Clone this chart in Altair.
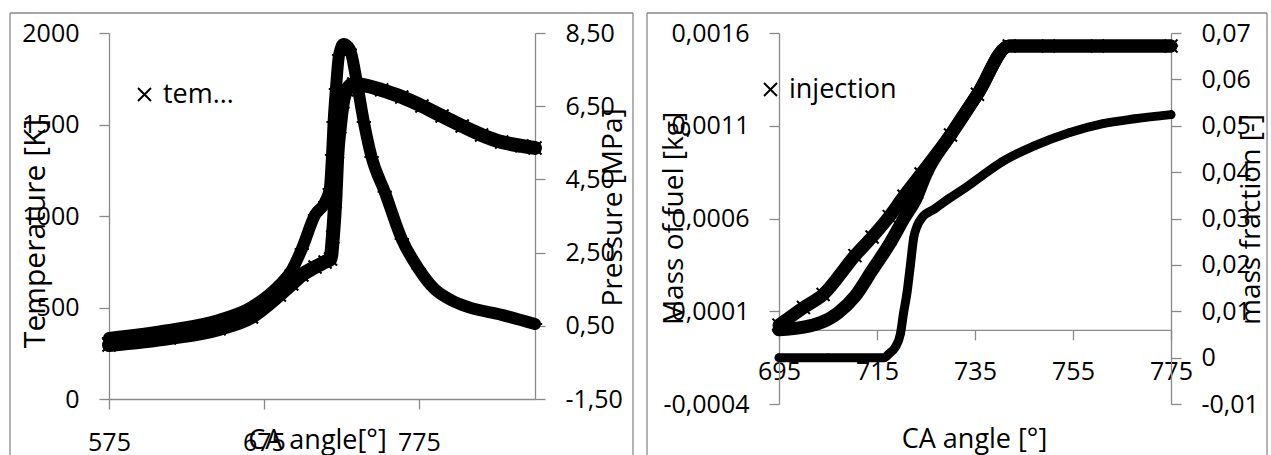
import altair as alt
import pandas as pd

# ---------------- data ----------------
# left panel: temperature [K] (left axis) and pressure [MPa] (right axis)
temp_deg = [575, 614, 646, 667, 685, 693, 699.5, 708, 714.5, 718, 719.5, 721, 722.5, 724, 726,
            728.5, 733, 751, 764, 777, 790, 803, 815.5, 828.5, 841.5, 850]
temp_K = [295, 333, 383, 448, 568, 628, 678, 721, 749, 765, 885, 1077, 1350, 1486, 1623,
          1689, 1721, 1689, 1650, 1601, 1546, 1492, 1443, 1404, 1383, 1372]
pres_deg = [575, 614, 646, 667, 685, 693, 699.5, 708, 714.5, 717.5, 719, 720, 721.5, 723.5,
            726.5, 730.5, 735, 739.5, 744.5, 753, 764, 775, 785, 796, 807, 828.5, 850]
pres_MPa = [0.17, 0.39, 0.66, 1.01, 1.61, 2.02, 2.60, 3.53, 3.88, 4.24, 5.17, 6.07, 6.97, 7.90,
            8.20, 8.05, 7.16, 6.07, 5.11, 4.16, 2.87, 2.05, 1.51, 1.20, 1.01, 0.80, 0.55]

# right panel: mass of fuel [kg] (left axis) and mass fraction [-] (right axis)
inj_deg = [695, 700, 704, 710.5, 714, 717.5, 720.5, 724, 730, 735.5, 742, 750, 760, 775]
inj_kg = [0.000025, 0.00012, 0.00019, 0.0004, 0.0005, 0.00061, 0.00072, 0.00084, 0.00105,
          0.00127, 0.00153, 0.00153, 0.00153, 0.00153]
evap_deg = [695, 700, 707, 710.5, 714, 717.5, 720.5, 723, 725, 730, 735.5, 742, 750, 760, 775]
evap_kg = [0.0, 0.000014, 0.00009, 0.00018, 0.00032, 0.00046, 0.0006, 0.00071, 0.00084,
           0.00105, 0.00127, 0.00153, 0.00153, 0.00153, 0.00153]
frac_deg = [695, 705, 716.5, 717.5, 718.7, 719.8, 720.4, 721.1, 721.8, 722.5, 723.2, 724.2,
            726.8, 729.7, 733, 736.4, 740.5, 747.2, 754.2, 760.9, 767.7, 775]
frac_val = [0, 0, 0, 0.0009, 0.0022, 0.0052, 0.0095, 0.0138, 0.0198, 0.0259, 0.0284, 0.0302,
            0.0321, 0.0343, 0.0366, 0.0392, 0.0422, 0.0457, 0.0485, 0.0504, 0.0515, 0.0524]

# axis ticks
x1_ticks = [575, 675, 775]
t_ticks = [0, 500, 1000, 1500, 2000]
p_ticks = [-1.5, 0.5, 2.5, 4.5, 6.5, 8.5]
x2_ticks = [695, 715, 735, 755, 775]
m_ticks = [-0.0004, 0.0001, 0.0006, 0.0011, 0.0016]
f_ticks = [-0.01, 0, 0.01, 0.02, 0.03, 0.04, 0.05, 0.06, 0.07]

FONT = "Open Sans"
LBL = 25
TTL = 28
GREY = "#898989"
XPATH = "M-1,-1L1,1M1,-1L-1,1"
PPATH = "M-1.1,0L1.1,0M0,-0.9L0,0.9"

W1, H1 = 426, 366
W2, H2 = 392, 371


def comma(fmt):
    return ("replace(replace(format(datum.value, '%s'), '.', ','), '\u2212', '-')" % fmt)


def df(x, y, name):
    return pd.DataFrame({"deg": x, "val": y, "series": [name] * len(x)})


frame_src = pd.DataFrame({"k": [0]})


def frame(left, right, top, bottom):
    base = alt.Chart(frame_src)
    l = base.mark_rule(color=GREY, strokeWidth=1.3).encode(
        x=alt.value(left), y=alt.value(top), y2=alt.value(bottom))
    r = base.mark_rule(color=GREY, strokeWidth=1.3).encode(
        x=alt.value(right), y=alt.value(top), y2=alt.value(bottom))
    t = base.mark_rule(color=GREY, strokeWidth=1.3).encode(
        x=alt.value(left), x2=alt.value(right), y=alt.value(top))
    return [l, r, t]


def legend(x, y, limit):
    return alt.Legend(orient="none", legendX=x, legendY=y, title=None,
                      labelFont=FONT, labelFontSize=27, labelLimit=limit,
                      labelColor="black", symbolSize=169, symbolOpacity=1,
                      symbolStrokeColor="black", symbolStrokeWidth=2,
                      labelOffset=5, padding=0)


# ---------------- left panel ----------------
x1 = alt.X("deg:Q",
           scale=alt.Scale(domain=[575, 850], nice=False, zero=False),
           axis=alt.Axis(values=x1_ticks, title="CA angle[°]", labelBaseline="alphabetic",
                         labelPadding=41, titleX=208, titleY=49, titleBaseline="alphabetic",
                         titleAlign="center", titleFontSize=27))
yT = alt.Y("val:Q",
           scale=alt.Scale(domain=[0, 2000], nice=False, zero=False),
           axis=alt.Axis(values=t_ticks, title="Temperature [K]", orient="left", format="d",
                         titleX=-74, titleY=200, titleAngle=270, titleBaseline="middle",
                         titleAlign="center", titleFontSize=30))
yP = alt.Y("val:Q",
           scale=alt.Scale(domain=[-1.5, 8.5], nice=False, zero=False),
           axis=alt.Axis(values=p_ticks, title="Pressure [MPa]", orient="right",
                         labelExpr=comma(".2f"),
                         titleX=78, titleY=174, titleAngle=270, titleBaseline="middle",
                         titleAlign="center"))

dT = df(temp_deg, temp_K, "temperature")
dP = df(pres_deg, pres_MPa, "pressure")

t_line = alt.Chart(dT).mark_line(color="black", strokeWidth=14, interpolate="monotone",
                                 strokeJoin="round", strokeCap="round").encode(x=x1, y=yT)
t_pts = alt.Chart(dT).mark_point(filled=False, color="black", opacity=1, strokeWidth=2,
                                 size=169).encode(
    x=x1, y=yT,
    shape=alt.Shape("series:N", scale=alt.Scale(domain=["temperature"], range=[XPATH]),
                    legend=legend(22, 48, 78)))
p_line = alt.Chart(dP).mark_line(color="black", strokeWidth=12, interpolate="monotone",
                                 strokeJoin="round", strokeCap="round").encode(x=x1, y=yP)
p_pts = alt.Chart(dP).mark_point(filled=False, color="black", opacity=1, strokeWidth=2,
                                 size=169, shape=PPATH).encode(x=x1, y=yP)

left = alt.layer(
    alt.layer(t_line, t_pts),
    alt.layer(p_line, p_pts),
    *frame(-99, 524, -20, 424),
).resolve_scale(y="independent").properties(width=W1, height=H1)

# ---------------- right panel ----------------
x2 = alt.X("deg:Q",
           scale=alt.Scale(domain=[695, 775], nice=False, zero=False),
           axis=alt.Axis(values=x2_ticks, title="CA angle [°]", offset=-74.2,
                         labelBaseline="alphabetic", labelPadding=40,
                         titleX=195, titleY=118, titleBaseline="alphabetic",
                         titleAlign="center", titleFontSize=27))
yM = alt.Y("val:Q",
           scale=alt.Scale(domain=[-0.0004, 0.0016], nice=False, zero=False),
           axis=alt.Axis(values=m_ticks, title="Mass of fuel [kg]", orient="left",
                         labelExpr=comma(".4f"),
                         titleX=-105, titleY=185, titleAngle=270, titleBaseline="middle",
                         titleAlign="center"))
yF = alt.Y("val:Q",
           scale=alt.Scale(domain=[-0.01, 0.07], nice=False, zero=False),
           axis=alt.Axis(values=f_ticks, title="mass fraction [-]", orient="right",
                         labelExpr="datum.value == 0 ? '0' : " + comma(".2f"),
                         titleX=80, titleY=186, titleAngle=270, titleBaseline="middle",
                         titleAlign="center"))

dI = df(inj_deg, inj_kg, "injection")
dE = df(evap_deg, evap_kg, "evaporation")
dF = df(frac_deg, frac_val, "burned")

i_line = alt.Chart(dI).mark_line(color="black", strokeWidth=13, interpolate="monotone",
                                 strokeJoin="round", strokeCap="round").encode(x=x2, y=yM)
i_pts = alt.Chart(dI).mark_point(filled=False, color="black", opacity=1, strokeWidth=2,
                                 size=169).encode(
    x=x2, y=yM,
    shape=alt.Shape("series:N", scale=alt.Scale(domain=["injection"], range=[XPATH]),
                    legend=legend(-22, 43, 200)))
e_line = alt.Chart(dE).mark_line(color="black", strokeWidth=13, interpolate="monotone",
                                 strokeJoin="round", strokeCap="round").encode(x=x2, y=yM)
e_pts = alt.Chart(dE).mark_point(filled=False, color="black", opacity=1, strokeWidth=2,
                                 size=169, shape=PPATH).encode(x=x2, y=yM)
f_line = alt.Chart(dF).mark_line(color="black", strokeWidth=9, interpolate="monotone",
                                 strokeJoin="round", strokeCap="round").encode(x=x2, y=yF)
f_pts = alt.Chart(dF).mark_point(filled=True, color="black", opacity=1, size=70,
                                 shape="circle").encode(x=x2, y=yF)

right = alt.layer(
    alt.layer(i_line, i_pts, e_line, e_pts),
    alt.layer(f_line, f_pts),
    *frame(-132, 488, -20, 424),
).resolve_scale(y="independent").properties(width=W2, height=H2)

chart = alt.hconcat(left, right, spacing=244, bounds="flush").resolve_scale(
    x="independent", y="independent", shape="independent"
).properties(
    padding={"left": 8, "top": 11, "right": 0, "bottom": 0}
).configure_view(stroke="transparent").configure_axis(
    labelFont=FONT, titleFont=FONT, labelFontSize=LBL, titleFontSize=TTL,
    labelColor="black", titleColor="black", titleFontWeight="normal",
    domainColor=GREY, tickColor=GREY, tickSize=10, domainWidth=1.3, tickWidth=1.3,
    labelPadding=20, grid=False, labelFlush=False, labelOverlap=False
).configure_legend(labelFont=FONT)

chart.save("out.html", embed_options={"renderer": "svg", "actions": False})
